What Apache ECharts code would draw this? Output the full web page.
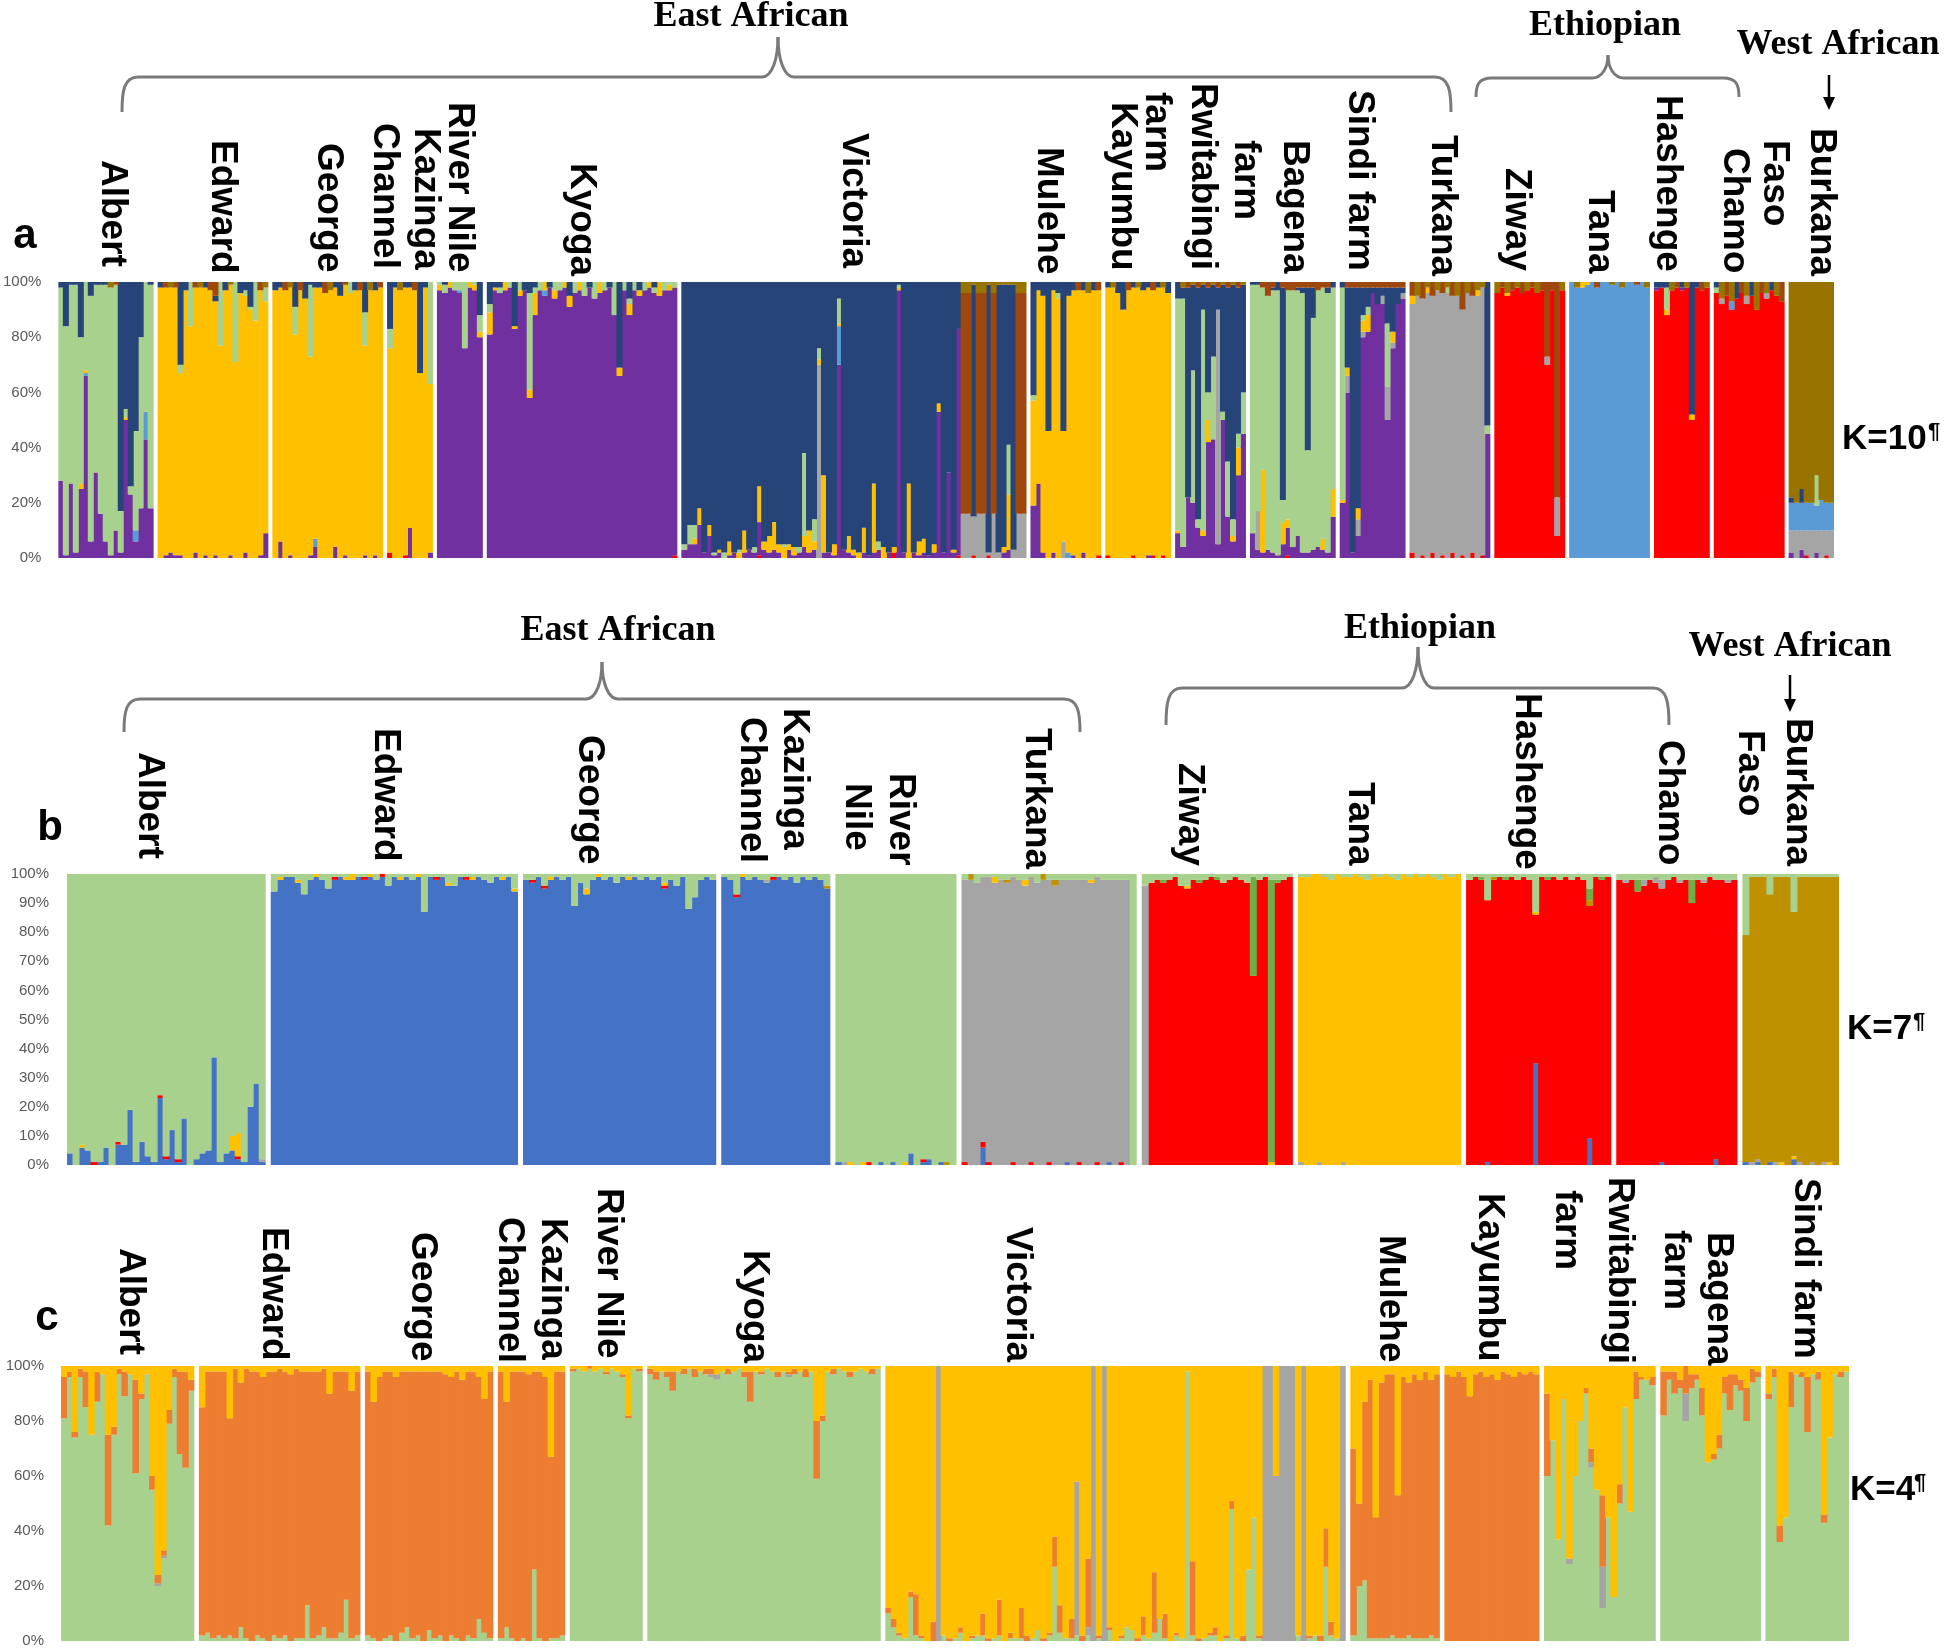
<!DOCTYPE html>
<html><head><meta charset="utf-8">
<script src="https://cdn.jsdelivr.net/npm/echarts@6/dist/echarts.min.js"></script>
<style>html,body{margin:0;padding:0;background:#fff}#c{width:1946px;height:1649px}</style>
</head><body><div id="c"></div>
<script>
// ===== Panel a (K=10) ===== codes: r red, p purple, a gray, l light blue, y yellow, g green, n navy, b brown, o olive
const compsA = ['r','p','a','l','y','g','n','b','o'];
const albertA = ['p28 g70 n2','p1 g83 n16','p27 g72 n1','p2 g97 n1','p25 y2 g53 n20','p66 y1 l1 g32','p6 g89 n5','p31 g68 n1','p16 g83 n1','p6 g93 n1','p1 g97 o2','p10 g89 b1','p2 g15 n83','p50 y1 g3 n46','p23 g3 n74','p6 l4 g36 n54','p18 g62 n20','p43 l10 g47','p18 g81 n1'];
const edwardA = ['y98 n2','p1 y97 b2','p2 y96 o2','p1 y97 b2','p1 y66 g3 n30','y97 n3','y84 g16','p2 y96 b2','y98 o2','p1 y97 n2','y97 b3','p1 y92 n2 b5','y77 g23','y97 n3','p1 y98 o1','y71 g29','y96 n4','p2 y93 g2 n3','y90 g1 n9','y86 g14','p1 y96 b3','p9 y84 g5 o2'];
const georgeA = ['y97 n3','p6 y92 n2','y97 b3','p1 y97 o2','y81 g10 n9','y97 b3','y94 n6','p1 y72 g26 n1','p4 y91 l3 n2','y98 n2','y96 b4','y97 o3','p4 y94 n2','y95 n5','p1 y98 b1','y96 g4','y97 n3','y97 b3','p1 y76 g12 n11','y97 o3','p1 y96 n3','y98 b2'];
const kazingaA = ['r2 y74 g7 n17','y98 n2','y97 o3','r1 y97 n2','p11 y87 n2','y97 b3','y67 n33','y98 n2','p2 y61 g37'];
const riverNileA = ['p97 y2 g1','p96 g3 n1','p98 y2','p97 g3','p96 l1 g3','p76 g24','p98 y2','p97 y2 g1','p80 y2 g6 n12'];
const kyogaA = ['p81 y8 g3 n8','p97 y1 n2','p96 g2 n2','p97 y3','p98 g2','p83 y1 n16','p95 g3 y2','p97 n3','p58 y3 g35 n4','p88 y8 g2 n2','p97 g3','p95 l2 y3','p98 n2','p94 g3 y3','p97 g3','p98 y2','p91 y4 n5','p96 g4','p97 y3','p95 g5','p98 n2','p94 g6','p96 y4','p97 g3','p98 n2','p88 g12','p66 y3 n31','p97 g3','p88 y4 g2 n6','p97 g3','p95 y2 n3','p97 g3','p98 y2','p96 g2 n2','p95 y5','p97 g3','p97 y2 g1','r1 p97 g2'];
const victoriaA = ['p3 g2 n95','p5 g7 n88','p5 g5 y2 n88','p12 y6 n82','p2 n98','p8 y4 n88','p1 g1 n98','p2 y1 n97','g2 n98','p1 y5 n94','p2 n98','y2 g1 n97','p2 y8 n90','p3 n97','p2 g2 n96','p12 r1 y13 n74','p3 y3 n94','p2 y6 n92','p3 y10 n87','p2 y3 n95','y4 g1 n95','p3 y2 n95','p1 y3 n96','p2 g2 n96','p4 y4 g30 n62','p2 y8 n90','p3 y3 g8 n86','a70 y2 g4 n24','p2 y28 n70','p2 n98','p1 y4 n95','p70 y1 l14 g9 n6','p3 n97','p2 y6 n92','p1 y2 n97','y2 n98','p2 y9 n89','p1 n99','p2 y25 n73','p3 g3 n94','y4 n96','p2 n98','r2 y2 n96','p97 y1 g1 n1','p2 n98','y27 n73','p2 n98','p1 y5 n94','p2 y5 n93','p1 n99','p2 y3 n95','p53 y3 n44','p2 n98','p31 n69','p2 y1 n97','p82 r1 n17','a16 b80 o4','a16 b80 o4','r1 a14 n84 o1','a16 b80 o4','a16 b80 o4','r1 a1 n97 o1','a16 b80 o4','a2 n97 o1','p2 y2 n95 o1','p3 y20 g18 n58 o1','a3 n96 o1','a16 b80 o4','a16 b80 o4'];
const muleheA = ['p19 y38 g2 n41','p27 y70 n3','p2 y93 n5','y46 n54','p2 y95 n3','y94 g2 n4','a6 y40 n54','y93 l2 n5','p1 y96 n3','y97 b3','p2 y95 n3','y96 o4','y97 n3','r1 y96 b3'];
const kayumbuA = ['r1 y97 n2','y98 o2','y96 n4','y90 n10','y97 b3','r1 y97 n2','y98 o2','y97 n3','p1 y97 n2','r1 y96 b3','y98 n2','r1 y97 o2','y96 n4'];
const rwitabingiA = ['p9 y1 g84 n6','p4 g90 n4 o2','p22 n76 b2','p20 g48 n31 o1','p11 g3 n84 b2','p8 y2 g80 n9 o1','p42 y8 g10 n38 b2','p43 g30 n26 o1','p5 a85 n8 b2','p50 g3 n46 o1','p15 g20 n63 b2','p6 y2 g6 n85 o1','p30 y10 g5 n53 b2','p45 g15 n39 o1'];
const bagenaA = ['p9 g90 n1','p3 a14 g82 n1','p2 y30 g66 b2','p3 g92 b5','p2 g95 n1 b2','p1 g96 n3','p5 y8 g8 n77 b2','r1 p10 y3 g83 b3','p4 g93 b3','p8 g89 n1 b2','p2 g94 n2 b2','p2 g37 n59 b2','p3 g84 n11 b2','p4 g93 b3','p3 y4 g91 b2','p2 g94 n2 b2','p15 y10 g73 n2'];
const sindiA = ['p20 y1 g77 n2','p60 a6 y3 n29 b2','p2 n96 b2','p8 a6 y4 n80 b2','p80 a2 y4 g2 n10 b2','p82 y6 g3 n7 b2','p96 n2 b2','p92 n6 b2','p92 a3 n3 b2','p50 a12 g23 n13 b2','p76 a2 y4 n16 b2','p92 n6 b2','p94 a2 n2 b2'];
const turkanaA = ['r2 a90 y3 b5','a95 o5','r1 a93 b6','a96 y2 o2','r2 a93 b5','a97 o3','r1 a95 b4','a96 g2 o2','r2 a93 b5','a95 o5','r1 a89 b10','a96 o4','r2 a93 b5','a95 y2 o3','r1 a97 o2','p45 g3 n52'];
const ziwayA = ['r96 o4','r98 b2','r95 y1 o4','r97 b3','r98 o2','r96 b4','r97 o3','r98 b2','r96 o4','r97 b3','r70 a3 b27','r97 b3','r8 a14 b78','r97 o3'];
const tanaA = ['l100','l98 o2','y2 l98','l99 y1','l100','l98 b2','l100','l100','l99 o1','l100','l98 o2','l100','l100','l99 b1','l100','l98 o2'];
const hashengeA = ['p1 r97 n2','r98 n2','r88 y2 g8 n2','r97 o3','r98 b2','p1 r97 n2','r98 o2','r50 y2 n48','r98 n2','r97 b3','r98 o2'];
const chamoA = ['r96 g2 n2','r92 a2 o6','r95 b5','r90 l3 o7','r94 n6','r96 b4','r92 a3 o5','r95 n5','r90 o10','r96 b4','r94 a2 o4','r97 n3','r95 o5','r93 b7'];
const burkinaA = ['p2 a8 l10 n2 o78','a10 l10 o80','p3 a7 l10 n5 o75','r1 a9 l10 o80','a10 l10 o80','p2 a8 l9 g11 o70','a10 l11 o79','r1 a9 l10 o80','a10 l10 o80'];

// ===== Panel b (K=7) ===== codes: B blue, r red, a gray, y yellow, o gold, d dark green, g light green
const compsB = ['B','r','a','y','o','d','g'];
const albertB = ['B4 g96','g100','B6 y1 g93','B5 g95','r1 g99','B1 g99','B6 g94','g100','B7 r1 g92','B7 g93','B19 g81','B1 g99','B8 g92','B3 g97','B1 g99','B23 r1 g76','B2 r1 g97','B12 g88','B1 r1 g98','B16 g84','g100','B2 g98','B4 g96','B5 g95','B37 g63','B1 g99','B4 g96','B5 y5 g90','B2 r1 y8 g89','B1 g99','B20 g80','B28 g72','B1 a1 g98'];
const edwardB = ['B94 g6','B98 y1 g1','B99 g1','B99 g1','B97 y1 g2','B93 g7','B98 g2','B99 y1','B98 g2','B95 g5','B98 r1 g1','B99 g1','B98 y1 g1','B98 y2','B99 g1','B98 r1 g1','B99 y1','B98 g2','B99 r1','B96 g4','B99 g1','B98 y1 g1','B99 g1','B98 g2','B99 y1','B87 g13','B99 g1','B98 r1 g1','B99 g1','B96 y1 g3','B96 g4','B99 g1','B98 r1 g1','B98 y1 g1','B99 g1','B98 g2','B97 g3','B99 g1','B98 y1 g1','B99 g1','B94 y1 g5'];
const georgeB = ['B98 g2','B97 r1 g2','B99 g1','B95 r1 g4','B98 y1 g1','B99 g1','B98 g2','B99 g1','B89 g11','B97 g3','B93 y2 g5','B98 g2','B99 y1','B98 g2','B99 g1','B97 g3','B99 g1','B98 y1 g1','B99 g1','B98 g2','B99 g1','B98 g2','B99 g1','B95 r1 y1 g3','B98 g2','B96 g4','B99 g1','B88 g12','B92 g8','B98 g2','B99 g1','B98 g2'];
const kazingaB = ['B99 g1','B98 g2','B92 r1 g7','B99 y1','B98 g2','B99 g1','B98 g2','B97 a1 g2','B98 r1 g1','B99 g1','B98 g2','B99 g1','B97 g3','B99 g1','B98 g2','B99 g1','B98 g2','B95 o1 g4'];
const riverNileB = ['B1 g99','a1 g99','y1 g99','g100','y1 g99','r1 g99','g100','B1 g99','g100','B1 g99','g100','y1 g99','B4 g96','g100','B1 r1 g98','B2 g98','g100','B1 g99','o1 g99','g100'];
const turkanaB = ['r1 a97 g2','a98 o2','a97 g3','B6 r2 a91 g1','r1 a98 g1','a97 y2 g1','a98 g2','a97 o1 g2','r1 a98 g1','a98 g2','a96 y2 g2','r1 a98 g1','a97 g3','a98 o2','r1 a97 g2','a96 o2 g2','a98 g2','B1 a97 g2','a98 g2','r1 a97 g2','a98 g2','a97 y1 g2','r1 a98 g1','a98 g2','B1 a97 g2','a98 g2','r1 a97 g2','a98 g2','g100'];
const ziwayB = ['a96 g4','r97 g3','r98 g2','r97 d1 g2','r98 g2','r99 g1','r96 g4','r95 y1 g4','r98 g2','r97 d1 g2','r98 g2','r99 g1','r98 d1 g1','r97 g3','r98 g2','r99 g1','r98 g2','r97 g3','r65 d34 g1','r98 g2','r99 g1','y1 d97 g2','r97 d1 g2','r98 g2','r99 g1'];
const tanaB = ['a1 y98 g1','y99 g1','y100','a1 y99','y99 g1','y98 g2','y100','a1 y98 g1','y99 g1','y100','y99 g1','y98 g2','y100','y99 g1','y100','y99 g1','y98 g2','y100','y99 g1','y100','y99 g1','y100','y99 g1','y98 g2','y100','y99 g1','y100'];
const hashengeB = ['r98 g2','r99 g1','r98 d1 g1','B1 r90 g9','r98 o1 g1','r99 g1','r98 d1 g1','r99 g1','r98 g2','r99 g1','r98 g2','B35 r51 y1 g13','r99 g1','r98 d1 g1','r99 g1','r98 g2','r99 g1','r98 g2','r99 g1','r98 g2','B9 r80 o2 d4 g5','r99 g1','r98 d1 g1','r99 g1'];
const chamoB = ['r98 g2','r97 a1 g2','r98 g2','r94 d4 g2','r96 a2 g2','r98 g2','r97 a2 g1','B1 r94 a3 g2','r98 g2','r99 g1','r97 a1 g2','r98 g2','r90 d8 g2','r98 g2','r97 a1 g2','r99 g1','B2 r96 g2','r98 g2','r97 a1 g2','r98 g2'];
const burkinaB = ['B1 o78 g21','a1 o98 g1','B1 a1 o97 g1','o99 g1','B1 o92 g7','a1 o98 g1','y1 o98 g1','o99 g1','B2 y1 o84 g13','a1 o98 g1','o99 g1','a1 o98 g1','o99 g1','a1 o98 g1','y1 o98 g1','o99 g1'];

// ===== Panel c (K=4) ===== codes: g green, a gray, o orange, y yellow
const compsC = ['g','a','o','y'];
const albertC = ['g81 o15 y4','g96 o2 y2','g74 o2 y24','g96 o3 y1','g85 o13 y2','g75 y25','g87 o11 y2','g97 y3','g42 o33 y25','g75 o3 y22','g97 o2 y1','g89 o9 y2','g97 y3','g61 o34 y5','g88 o2 y10','g97 y3','g55 o5 y40','g20 a1 o3 y76','g30 a1 o2 y67','g79 o5 y16','g96 o3 y1','g68 o30 y2','g63 o35 y2','g91 o4 y5'];
const edwardC = ['g2 o83 y15','g3 o95 y2','g1 o97 y2','g2 o96 y2','g1 o97 y2','g2 o79 y19','g1 o98 y1','g5 o89 y6','g1 o98 y1','o98 y2','g2 o96 y2','g1 o95 y4','o98 y2','g2 o96 y2','g1 o98 y1','g2 o96 y2','o97 y3','g1 o98 y1','g1 o97 y2','g13 o85 y2','g1 o97 y2','g2 o96 y2','g5 o94 y1','g1 o89 y10','g1 o97 y2','g3 o95 y2','g15 o83 y2','g1 o90 y9','g2 o96 y2'];
const georgeC = ['g2 o96 y2','g1 o86 y13','o96 y4','g1 o97 y2','g2 o96 y2','o96 y4','g3 o95 y2','g5 o93 y2','g1 o97 y2','g2 o96 y2','o98 y2','g4 o94 y2','g1 o97 y2','g2 o96 y2','o97 y3','g2 o94 y4','g1 o97 y2','o95 y5','g2 o96 y2','g1 o97 y2','g8 o88 y4','g3 o85 y12','g1 o97 y2'];
const kazingaC = ['g1 o97 y2','g5 o82 y13','g1 o97 y2','o98 y2','g1 o97 y2','o97 y3','g26 o72 y2','g1 o97 y2','o96 y4','g1 o66 y33','g1 o97 y2','g2 o96 y2'];
const riverNileC = ['g98 o1 y1','g99 y1','g98 y2','g99 o1','g98 y2','g99 y1','g97 o1 y2','g99 y1','g98 y2','g96 o1 y3','g81 o1 y18','g99 y1','g98 o1 y1'];
const kyogaC = ['g97 o2 y1','g95 o3 y2','g98 y2','g96 o2 y2','g91 o7 y2','g98 y2','g97 o2 y1','g99 y1','g96 o3 y1','g98 y2','g97 o2 y1','g96 a1 o2 y1','g95 a2 y3','g98 y2','g97 o2 y1','g98 y2','g99 y1','g96 o2 y2','g87 o11 y2','g98 y2','g97 o1 y2','g99 y1','g98 y2','g96 o2 y2','g98 y2','g96 a1 o1 y2','g97 o2 y1','g98 y2','g96 o3 y1','g98 y2','g59 o21 y20','g80 o2 y18','g98 y2','g97 o2 y1','g99 y1','g98 y2','g96 o2 y2','g98 y2','g99 y1','g98 y2','g97 o2 y1','g99 y1'];
const victoriaC = ['g10 o2 y88','g5 o3 y92','g2 o1 y97','g1 y99','g16 o2 y82','g2 o15 y83','g1 o1 y98','y100','o7 y93','a100','g2 y98','o1 y99','g1 y99','g3 o2 y95','y100','g1 o1 y98','g2 y98','g2 o8 y90','o1 y99','g1 y99','g2 o13 y85','y100','g1 o2 y97','g1 y99','g1 o11 y88','o2 y98','g1 y99','g4 y96','o1 y99','g2 o1 y97','g27 o11 y62','g3 o10 y87','g1 y99','g1 o7 y92','g2 a56 y42','o2 y98','g2 a3 o25 y70','a100','g1 o1 y98','a100','g4 o1 y95','y100','g1 o1 y98','g5 y95','g4 y96','o1 y99','g2 o7 y91','g1 y99','g3 o22 y75','g8 y92','g1 o9 y90','y100','g2 o1 y97','g1 y99','g98 y2','g2 o27 y71','o1 y99','g1 y99','g2 o1 y97','g2 o3 y95','y100','g1 o1 y98','g48 o3 y49','g1 y99','o2 y98','g26 y74','g45 y55','g1 o1 y98','a100','a100','a60 y40','a100','a100','a100','g2 y98','a100','g1 o1 y98','g2 y98','o2 y98','g27 o14 y59','g2 o5 y93','g1 y99','a100'];
const muleheC = ['g2 o68 y30','g20 o30 y50','g22 o65 y13','g1 o94 y5','g1 o44 y55','g1 o93 y6','g1 o96 y3','g2 o95 y3','g1 o52 y47','g1 o95 y4','g2 o92 y6','g1 o96 y3','g1 o94 y5','g1 o97 y2','g2 o93 y5','g1 o96 y3'];
const kayumbuC = ['o97 y3','o96 y4','o98 y2','o96 y4','o89 y11','o97 y3','o98 y2','o96 y4','o97 y3','o95 y5','o98 y2','o97 y3','o96 y4','o98 y2','o97 y3','o98 y2','o97 y3'];
const rwitabingiC = ['g60 o30 y10','g73 y27','g37 y63','g88 y12','g28 a2 y70','g60 y40','g80 y20','g90 o2 y8','g63 a2 o5 y30','g55 y45','g12 a15 o26 y47','g45 y55','g16 y84','g50 o7 y43','g85 y15','g47 y53','g88 o10 y2','g95 o1 y4','g95 y5','g93 o3 y4'];
const bagenaC = ['g82 o16 y2','g95 o3 y2','g90 o8 y2','g92 o3 y5','g80 a10 o10','g92 o5 y3','g95 o2 y3','g82 o10 y8','g65 y35','g66 o2 y32','g70 o5 y25','g90 o6 y4','g84 o13 y3','g93 o4 y3','g91 o4 y5','g80 o12 y8','g94 o5 y1','g96 o2 y2'];
const sindiC = ['g88 o2 y10','g96 o3 y1','g36 o6 y58','g45 y55','g85 o13 y2','g97 y3','g96 o2 y2','g76 o20 y4','g97 y3','g95 o3 y2','g43 o3 y54','g74 y26','g97 y3','g96 o2 y2','g98 y2'];

// ===== styling / layout (not data) =====
const colorsA = ['#FF0000','#7030A0','#A5A5A5','#5B9BD5','#FFC000','#A9D18E','#264478','#9E480E','#997300'];
const colorsB = ['#4472C4','#FF0000','#A5A5A5','#FFC000','#BF9000','#70AD47','#A9D18E'];
const colorsC = ['#A9D18E','#A5A5A5','#ED7D31','#FFC000'];

function parse(s){const m={};s.trim().split(/\s+/).forEach(t=>{const k=t[0];const v=parseFloat(t.slice(1));m[k]=(m[k]||0)+v;});return m;}
function build(pops,comps){
  const cats=[];const data=comps.map(()=>[]);
  pops.forEach((pop,pi)=>{
    if(pi>0){cats.push('sep'+pi);comps.forEach((c,ci)=>data[ci].push('-'));}
    pop.forEach((ind,ii)=>{
      const m=parse(ind);let tot=0;comps.forEach(c=>tot+=(m[c]||0));
      cats.push(pi+'_'+ii);
      comps.forEach((c,ci)=>{const v=(m[c]||0)*100/tot;data[ci].push(v>0?v:'-');});
    });
  });
  return {cats,data};
}
const A = build([albertA,edwardA,georgeA,kazingaA,riverNileA,kyogaA,victoriaA,muleheA,kayumbuA,rwitabingiA,bagenaA,sindiA,turkanaA,ziwayA,tanaA,hashengeA,chamoA,burkinaA],compsA);
const B = build([albertB,edwardB,georgeB,kazingaB,riverNileB,turkanaB,ziwayB,tanaB,hashengeB,chamoB,burkinaB],compsB);
const C = build([albertC,edwardC,georgeC,kazingaC,riverNileC,kyogaC,victoriaC,muleheC,kayumbuC,rwitabingiC,bagenaC,sindiC],compsC);

const chart = echarts.init(document.getElementById('c'),null,{renderer:'canvas'});
const axLabel = (m)=>({formatter:'{value}%',fontSize:15,color:'#595959',margin:m,fontFamily:'"Liberation Sans Narrow","Liberation Sans",Arial,sans-serif'});
function yAx(i,interval,m){return {type:'value',gridIndex:i,min:0,max:100,interval,axisLabel:axLabel(m),splitLine:{show:false},axisLine:{show:false},axisTick:{show:false}};}
function xAx(i,cats){return {type:'category',gridIndex:i,data:cats,show:false,boundaryGap:true};}
// bars are drawn ~1px wider than their column so neighbouring columns overlap (no hairline seams)
function ser(built,colors,idx,stack,bw){
  return colors.map((col,ci)=>({type:'bar',xAxisIndex:idx,yAxisIndex:idx,stack,data:built.data[ci],itemStyle:{color:col},barWidth:bw,barGap:'0%',silent:true,animation:false}));
}
const gwA=1779, gwB=1772, gwC=1788;
const bwA=gwA/A.cats.length+1, bwB=gwB/B.cats.length+1, bwC=gwC/C.cats.length+1;

const LF='"Liberation Sans",Arial,Helvetica,sans-serif';
const SF='"Liberation Serif","Times New Roman",serif';
function vtext(t,x,y){return {type:'text',x,y,rotation:-Math.PI/2,silent:true,style:{text:t,font:'bold 37px '+LF,fill:'#000',align:'left',verticalAlign:'middle',textAlign:'left',textVerticalAlign:'middle'}};}
function htext(t,x,y,font,align){return {type:'text',x,y,silent:true,style:{text:t,font,fill:'#000',align:align||'center',verticalAlign:'middle',textAlign:align||'center',textVerticalAlign:'middle'}};}
const BST={fill:null,stroke:'#7a7a7a',lineWidth:3};
function bz(x1,y1,c1x,c1y,c2x,c2y,x2,y2){return {type:'bezierCurve',silent:true,shape:{x1,y1,cpx1:c1x,cpy1:c1y,cpx2:c2x,cpy2:c2y,x2,y2},style:BST};}
function ln(x1,y1,x2,y2){return {type:'line',silent:true,shape:{x1,y1,x2,y2},style:BST};}
function brace(xl,xr,ye,yh,xp,yp){
  const r=16;
  return [
    bz(xl,ye, xl,yh+(ye-yh)*0.4, xl+2,yh, xl+r,yh),
    ln(xl+r,yh,xp-r,yh),
    bz(xp-r,yh, xp-6,yh, xp,yh-(yh-yp)*0.45, xp,yp),
    bz(xp,yp, xp,yh-(yh-yp)*0.45, xp+6,yh, xp+r,yh),
    ln(xp+r,yh,xr-r,yh),
    bz(xr-r,yh, xr-2,yh, xr,yh+(ye-yh)*0.4, xr,ye)
  ];
}
function arrow(x,y1,y2){return [
  {type:'line',silent:true,shape:{x1:x,y1:y1,x2:x,y2:y2-10},style:{stroke:'#000',lineWidth:2.5}},
  {type:'polygon',silent:true,shape:{points:[[x-6,y2-13],[x+6,y2-13],[x,y2]]},style:{fill:'#000'}}];}

const labA=[['Albert',112,160],['Edward',222,140],['George',328,143],['Channel',384,123],['Kazinga',425,128],['River Nile',459,102],['Kyoga',581,163],['Victoria',853,133],['Mulehe',1048,147],['Kayumbu',1122,102],['farm',1156,92],['Rwitabingi',1202,83],['farm',1245,140],['Bagena',1294,140],['Sindi farm',1359,90],['Turkana',1442,135],['Ziway',1516,168],['Tana',1599,190],['Hashenge',1667,95],['Chamo',1734,148],['Faso',1774,140],['Burkana',1821,128]];
const labB=[['Albert',149,752],['Edward',385,728],['George',589,735],['Channel',751,717],['Kazinga',794,708],['Nile',856,783],['River',900,773],['Turkana',1036,728],['Ziway',1189,763],['Tana',1359,782],['Hashenge',1526,693],['Chamo',1669,740],['Faso',1749,730],['Burkana',1797,718]];
const labC=[['Albert',130,1248],['Edward',273,1227],['George',422,1232],['Channel',509,1217],['Kazinga',552,1218],['River Nile',608,1188],['Kyoga',754,1250],['Victoria',1017,1227],['Mulehe',1390,1235],['Kayumbu',1489,1193],['farm',1566,1190],['Rwitabingi',1619,1177],['farm',1675,1230],['Bagena',1718,1232],['Sindi farm',1805,1178]];

const graphics=[];
labA.concat(labB,labC).forEach(l=>graphics.push(vtext(l[0],l[1],l[2])));
graphics.push(htext('a',25,236,'bold 42px '+LF));
graphics.push(htext('b',50,828,'bold 42px '+LF));
graphics.push(htext('c',47,1318,'bold 42px '+LF));
graphics.push(htext('East African',751,17,'bold 36px '+SF));
graphics.push(htext('Ethiopian',1605,26,'bold 36px '+SF));
graphics.push(htext('West African',1838,45,'bold 36px '+SF));
graphics.push(htext('East African',618,631,'bold 36px '+SF));
graphics.push(htext('Ethiopian',1420,629,'bold 36px '+SF));
graphics.push(htext('West African',1790,647,'bold 36px '+SF));
brace(122,1451,112,77,778,37).forEach(g=>graphics.push(g));
brace(1476,1739,97,78,1608,55).forEach(g=>graphics.push(g));
brace(124,1080,732,699,602,662).forEach(g=>graphics.push(g));
brace(1166,1669,725,688,1418,647).forEach(g=>graphics.push(g));
arrow(1829,75,110).forEach(g=>graphics.push(g));
arrow(1790,675,712).forEach(g=>graphics.push(g));
graphics.push(htext('K=10',1842,439,'bold 35px '+LF,'left'));
graphics.push(htext('¶',1928,432,'bold 22px '+LF,'left'));
graphics.push(htext('K=7',1847,1029,'bold 35px '+LF,'left'));
graphics.push(htext('¶',1913,1022,'bold 22px '+LF,'left'));
graphics.push(htext('K=4',1850,1490,'bold 35px '+LF,'left'));
graphics.push(htext('¶',1914,1483,'bold 22px '+LF,'left'));

chart.setOption({
  animation:false,
  backgroundColor:'#fff',
  grid:[{left:55,top:282,width:gwA,height:276},{left:67,top:874,width:gwB,height:291},{left:61,top:1366,width:gwC,height:275}],
  xAxis:[xAx(0,A.cats),xAx(1,B.cats),xAx(2,C.cats)],
  yAxis:[yAx(0,20,17),yAx(1,10,18),yAx(2,20,17)],
  series:[].concat(ser(A,colorsA,0,'a',bwA),ser(B,colorsB,1,'b',bwB),ser(C,colorsC,2,'c',bwC)),
  graphic:graphics
});
</script></body></html>
